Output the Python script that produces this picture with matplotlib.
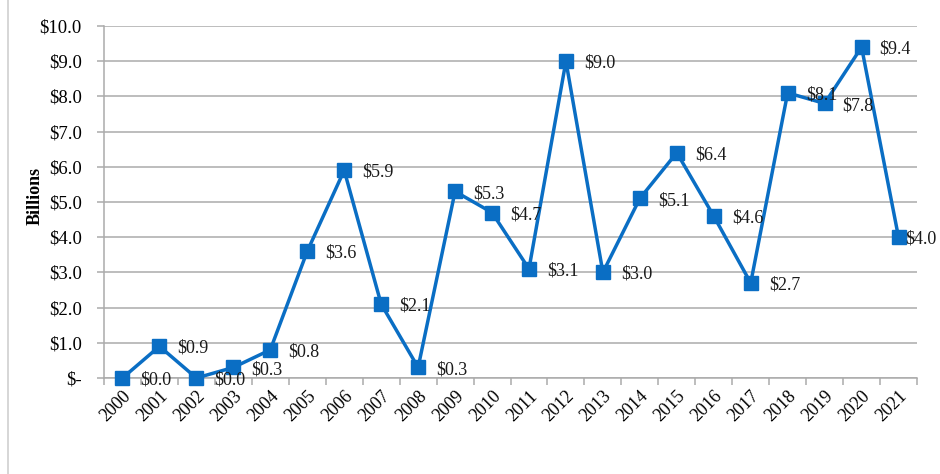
import matplotlib
matplotlib.use("Agg")
import matplotlib.pyplot as plt
from matplotlib.lines import Line2D
import numpy as np

years = [str(y) for y in range(2000, 2022)]
values = [0.0, 0.9, 0.0, 0.3, 0.8, 3.6, 5.9, 2.1, 0.3, 5.3, 4.7, 3.1,
          9.0, 3.0, 5.1, 6.4, 4.6, 2.7, 8.1, 7.8, 9.4, 4.0]
ytick_vals = [0, 1, 2, 3, 4, 5, 6, 7, 8, 9, 10]
ytick_labels = ["$-", "$1.0", "$2.0", "$3.0", "$4.0", "$5.0", "$6.0",
                "$7.0", "$8.0", "$9.0", "$10.0"]

plt.rcParams['font.family'] = ['Liberation Serif', 'DejaVu Serif']
plt.rcParams['text.color'] = '#1a1a1a'

fig = plt.figure(figsize=(9.4, 4.74), dpi=100)
ax = fig.add_axes([104/940, 1-378/474, (917-104)/940, (378-26)/474])

x = np.arange(len(years))
blue = '#0a6ec4'
grid_c = '#ababab'

ax.plot(x, values, color=blue, lw=2.5, marker='s', markersize=9.8, zorder=3,
        clip_on=False)

for i, v in enumerate(values):
    dx = 13 if i < len(values) - 1 else 4.5
    ax.annotate(f"${v:.1f}", (x[i], v), xytext=(dx, -1.5), textcoords='offset points',
                ha='left', va='center', fontsize=13, color='#1a1a1a', zorder=4,
                annotation_clip=False)

ax.set_xlim(-0.5, len(years) - 0.5)
ax.set_ylim(0, 10)

ax.set_yticks(ytick_vals)
ax.set_yticklabels(ytick_labels, fontsize=13.5)
ax.yaxis.grid(True, color=grid_c, lw=1.1)
ax.set_axisbelow(True)

ax.set_xticks(np.arange(len(years) + 1) - 0.5)
ax.set_xticklabels([])
ax.set_xticks(x, minor=True)
ax.set_xticklabels(years, minor=True, rotation=45, ha='right', va='top',
                   rotation_mode='anchor', fontsize=13)
ax.tick_params(axis='x', which='major', length=5, color=grid_c, width=1.1)
ax.tick_params(axis='x', which='minor', length=0, pad=7)
ax.tick_params(axis='y', which='major', length=5, color=grid_c, width=1.1, pad=11)

for s in ['top', 'right']:
    ax.spines[s].set_visible(False)
for s in ['left', 'bottom']:
    ax.spines[s].set_color(grid_c)
    ax.spines[s].set_linewidth(1.1)

ax.set_ylabel("Billions", fontsize=13, fontweight='bold')
ax.yaxis.set_label_coords((44 - 104) / 813, 0.517)

fig.add_artist(Line2D([8/940, 8/940], [0, 1], color='#d0d0d0', lw=1.2,
                      transform=fig.transFigure))

fig.savefig("out.png", dpi=100)
